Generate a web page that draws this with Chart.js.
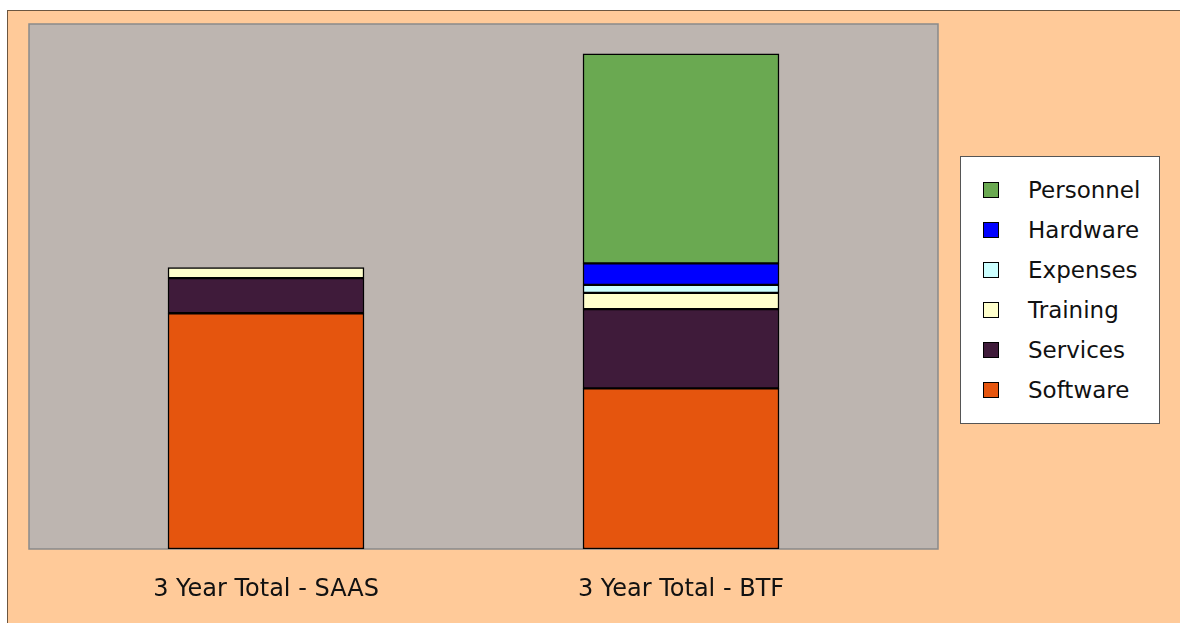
<!DOCTYPE html>
<html>
<head>
<meta charset="utf-8">
<script src="https://cdn.jsdelivr.net/npm/chart.js@4.4.0/dist/chart.umd.min.js"></script>
<style>
  html, body { margin: 0; padding: 0; background: #fff; }
  body { width: 1180px; height: 623px; position: relative; overflow: hidden; font-family: "DejaVu Sans", sans-serif; }
  .fondo { position: absolute; left: 7px; top: 10px; right: 0; bottom: 0; background: #FFCA99;
           border-top: 1px solid #6b5640; border-left: 1px solid #6b5640; }
  .grafico { position: absolute; left: 0; top: 0; }
  .leyenda { position: absolute; left: 960px; top: 156px; width: 200px; height: 268px; background: #fff;
             border: 1px solid #555; box-sizing: border-box; }
  .item { position: absolute; left: 0; height: 30px; line-height: 30px; font-size: 23px; color: #111; }
  .item span.cuadro { position: absolute; left: 22px; top: 7px; width: 16px; height: 16px; border: 1px solid #000; box-sizing: border-box; }
  .item span.texto { position: absolute; left: 67px; white-space: nowrap; }
</style>
</head>
<body>
<div class="fondo"></div>
<canvas class="grafico" width="1180" height="623"></canvas>
<div class="leyenda"></div>
<script>
const categorias = ["3 Year Total - SAAS", "3 Year Total - BTF"];

// valores en % de la escala (0-100), apilados de abajo hacia arriba
const software  = [44.9, 30.6];
const services  = [6.7, 15.1];
const training  = [2.0, 3.1];
const expenses  = [null, 1.5];
const hardware  = [null, 4.1];
const personnel = [null, 39.9];

const series = [
    { label: "Software",  data: software,  color: "#E5550E" },
    { label: "Services",  data: services,  color: "#3F1B3A" },
    { label: "Training",  data: training,  color: "#FFFFCC" },
    { label: "Expenses",  data: expenses,  color: "#CCFFFF" },
    { label: "Hardware",  data: hardware,  color: "#0000FF" },
    { label: "Personnel", data: personnel, color: "#6AA951" },
];

const canvas = document.querySelector('.grafico');
const leyenda = document.querySelector('.leyenda');

// caja gris del area de trazado
const cajaPlot = { left: 29, top: 24, right: 938, bottom: 549 };

const fondoPlot = {
    id: 'fondoPlot',
    beforeDraw(chart) {
        const ctx = chart.ctx;
        ctx.save();
        ctx.fillStyle = "#BDB5B0";
        ctx.fillRect(cajaPlot.left, cajaPlot.top, cajaPlot.right - cajaPlot.left, cajaPlot.bottom - cajaPlot.top);
        ctx.strokeStyle = "#8a8a8a";
        ctx.lineWidth = 1.5;
        ctx.strokeRect(cajaPlot.left, cajaPlot.top, cajaPlot.right - cajaPlot.left, cajaPlot.bottom - cajaPlot.top);
        ctx.restore();
    }
};

const config = {
    type: "bar",
    data: {
        labels: categorias,
        datasets: series.map((s) => ({
            label: s.label,
            data: s.data,
            backgroundColor: s.color,
            borderColor: "#000",
            borderWidth: 1.5,
            borderSkipped: false,
            barThickness: 196,
        }))
    },
    options: {
        responsive: false,
        animation: false,
        layout: { padding: { left: 58.5, right: 291.5, top: 24, bottom: 0 } },
        plugins: { legend: { display: false }, tooltip: { enabled: false } },
        scales: {
            x: {
                stacked: true,
                offset: true,
                grid: { display: false, drawTicks: false, tickLength: 0 },
                border: { display: false },
                ticks: { color: "#111", padding: 26, font: { family: "DejaVu Sans", size: 24 } },
                afterFit(scale) { scale.height = 74; }
            },
            y: {
                stacked: true,
                display: false,
                min: 0,
                max: 100,
            }
        }
    },
    plugins: [fondoPlot]
};

new Chart(canvas, config);

// leyenda en orden inverso (arriba = Personnel)
series.slice().reverse().forEach((s, i) => {
    const item = document.createElement('div');
    item.className = 'item';
    item.style.top = (18 + i * 40) + 'px';
    item.innerHTML = `<span class="cuadro" style="background:${s.color}"></span><span class="texto">${s.label}</span>`;
    leyenda.appendChild(item);
});
</script>
</body>
</html>
